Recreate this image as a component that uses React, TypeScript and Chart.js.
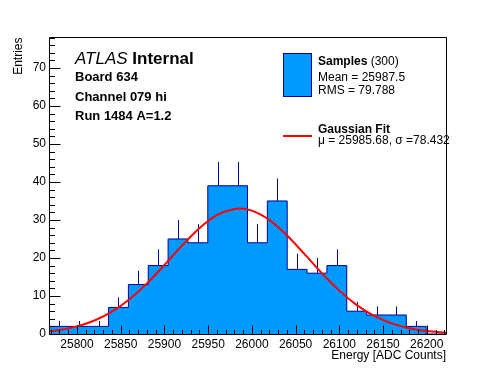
import React, { useEffect, useRef } from 'react';
import { Chart, registerables } from 'chart.js';

Chart.register(...registerables);

// ---- Data ----
const HIST_MIN = 25768;
const HIST_MAX = 26222;
const COUNTS = [2, 2, 2, 7, 13, 18, 25, 24, 39, 39, 24, 35, 17, 16, 18, 6, 5, 5, 2, 0];
const ERRORS = [1.41, 1.41, 1.41, 2.65, 3.61, 4.24, 5.0, 4.9, 6.24, 6.24, 4.9, 5.92, 4.12, 4.0, 4.24, 2.45, 2.24, 2.24, 1.41, 0];
const FIT_X = [25768, 25780, 25800, 25820, 25840, 25860, 25880, 25900, 25920, 25940, 25960, 25980, 25985.68, 26000, 26020, 26040, 26060, 26080, 26100, 26120, 26140, 26160, 26180, 26200, 26222];
const FIT_Y = [0.70, 1.06, 2.00, 3.54, 5.88, 9.14, 13.31, 18.17, 23.24, 27.85, 31.28, 32.91, 33.0, 32.45, 29.99, 25.97, 21.06, 16.01, 11.41, 7.61, 4.76, 2.79, 1.53, 0.79, 0.35];
const X_TICKS = [25800, 25850, 25900, 25950, 26000, 26050, 26100, 26150, 26200];
const Y_TICKS = [0, 10, 20, 30, 40, 50, 60, 70];
const Y_MAX = 78;
const X_MINOR_STEP = 10;
const Y_MINOR_STEP = 2;

const LEGEND_SAMPLES = 'Samples';
const LEGEND_SAMPLES_N = ' (300)';
const LEGEND_MEAN = 'Mean = 25987.5';
const LEGEND_RMS = 'RMS = 79.788';
const LEGEND_FIT = 'Gaussian Fit';
const LEGEND_FIT_PARAMS = 'μ = 25985.68, σ =78.432';
const INFO_LINES = ['Board 634', 'Channel 079 hi', 'Run 1484 A=1.2'];

// ---- Styles ----
const FONT = '"Liberation Sans", Arial, Helvetica, sans-serif';
const HIST_FILL = 'rgb(0,153,255)';
const HIST_LINE = 'rgb(0,0,153)';
const FIT_COLOR = 'rgb(255,0,0)';

const binWidth = (HIST_MAX - HIST_MIN) / COUNTS.length;
const EDGES = COUNTS.map((_, i) => HIST_MIN + i * binWidth).concat([HIST_MAX]);

const HIST_DATA = EDGES.map((e, i) => ({ x: e, y: COUNTS[Math.min(i, COUNTS.length - 1)] }));
const FIT_DATA = FIT_X.map((x, i) => ({ x, y: FIT_Y[i] }));

const decorPlugin = {
  id: 'rootDecor',
  afterDatasetDraw(chart: any, args: any) {
    if (args.index !== 1) return;
    const { ctx, scales } = chart;
    const xs = scales.x;
    const ys = scales.y;
    ctx.save();
    ctx.strokeStyle = HIST_LINE;
    ctx.lineWidth = 1;
    COUNTS.forEach((c, i) => {
      if (!ERRORS[i]) return;
      const cx = (EDGES[i] + EDGES[i + 1]) / 2;
      const px = Math.round(xs.getPixelForValue(cx)) + 0.5;
      ctx.beginPath();
      ctx.moveTo(px, ys.getPixelForValue(c));
      ctx.lineTo(px, ys.getPixelForValue(c + ERRORS[i]));
      ctx.stroke();
    });
    ctx.restore();
  },
  afterDraw(chart: any) {
    const { ctx, chartArea, scales } = chart;
    const xs = scales.x;
    const ys = scales.y;
    const L = Math.floor(chartArea.left) + 0.5;
    const R = Math.floor(chartArea.right) + 0.5;
    const T = Math.floor(chartArea.top) + 0.5;
    const B = Math.floor(chartArea.bottom) + 0.5;
    ctx.save();
    ctx.strokeStyle = '#000';
    ctx.lineWidth = 1;
    ctx.beginPath();
    ctx.rect(L, T, R - L, B - T);
    ctx.stroke();

    // x ticks
    ctx.beginPath();
    const xStart = Math.ceil(xs.min / X_MINOR_STEP) * X_MINOR_STEP;
    for (let v = xStart; v <= xs.max; v += X_MINOR_STEP) {
      const px = Math.round(xs.getPixelForValue(v)) + 0.5;
      const major = X_TICKS.includes(v);
      ctx.moveTo(px, B);
      ctx.lineTo(px, B - (major ? 9 : 4.5));
    }
    // y ticks
    for (let v = 0; v <= ys.max; v += Y_MINOR_STEP) {
      const py = Math.round(ys.getPixelForValue(v)) + 0.5;
      const major = Y_TICKS.includes(v);
      ctx.moveTo(L, py);
      ctx.lineTo(L + (major ? 11 : 5.5), py);
    }
    ctx.stroke();

    // ATLAS label
    ctx.fillStyle = '#000';
    ctx.textBaseline = 'alphabetic';
    ctx.textAlign = 'left';
    ctx.font = `italic 17px ${FONT}`;
    ctx.fillText('ATLAS', 75, 63.5);
    const w = ctx.measureText('ATLAS').width;
    ctx.font = `bold 17px ${FONT}`;
    ctx.fillText(' Internal', 75 + w, 63.5);
    ctx.font = `bold 13px ${FONT}`;
    const bases = [81, 101, 120];
    INFO_LINES.forEach((t, i) => ctx.fillText(t, 75, bases[i]));

    // Legend
    ctx.fillStyle = HIST_FILL;
    ctx.fillRect(283, 53, 29, 44);
    ctx.strokeStyle = HIST_LINE;
    ctx.strokeRect(283.5, 53.5, 28, 43);
    ctx.strokeStyle = FIT_COLOR;
    ctx.lineWidth = 2;
    ctx.beginPath();
    ctx.moveTo(283, 136);
    ctx.lineTo(312, 136);
    ctx.stroke();

    ctx.fillStyle = '#000';
    ctx.font = `bold 12px ${FONT}`;
    ctx.fillText(LEGEND_SAMPLES, 318, 65);
    const ws = ctx.measureText(LEGEND_SAMPLES).width;
    ctx.font = `12px ${FONT}`;
    ctx.fillText(LEGEND_SAMPLES_N, 318 + ws, 65);
    ctx.fillText(LEGEND_MEAN, 318, 81);
    ctx.fillText(LEGEND_RMS, 318, 93.5);
    ctx.font = `bold 12px ${FONT}`;
    ctx.fillText(LEGEND_FIT, 318, 133);
    ctx.font = `12px ${FONT}`;
    ctx.fillText(LEGEND_FIT_PARAMS, 318, 144);
    ctx.restore();
  },
};

export default function App() {
  const ref = useRef<HTMLCanvasElement | null>(null);
  useEffect(() => {
    if (!ref.current) return;
    const chart = new Chart(ref.current, {
      type: 'line',
      data: {
        datasets: [
          {
            label: 'Gaussian Fit',
            data: FIT_DATA,
            borderColor: FIT_COLOR,
            borderWidth: 2,
            pointRadius: 0,
            fill: false,
            cubicInterpolationMode: 'monotone',
            order: 1,
          } as any,
          {
            label: 'Samples',
            data: HIST_DATA,
            borderColor: HIST_LINE,
            backgroundColor: HIST_FILL,
            borderWidth: 1,
            pointRadius: 0,
            stepped: 'before',
            fill: 'origin',
            order: 2,
          } as any,
        ],
      },
      options: {
        animation: false,
        responsive: false,
        devicePixelRatio: 1,
        events: [],
        layout: { padding: { top: 37.5, right: 50, left: 0, bottom: 0 } },
        plugins: { legend: { display: false }, tooltip: { enabled: false } },
        scales: {
          x: {
            type: 'linear',
            min: HIST_MIN,
            max: HIST_MAX,
            grid: { display: false, drawTicks: false },
            border: { display: false },
            afterBuildTicks: (s: any) => { s.ticks = X_TICKS.map((v) => ({ value: v })); },
            afterFit: (s: any) => { s.height = 38; },
            ticks: {
              autoSkip: false,
              maxRotation: 0,
              padding: 3,
              color: '#000',
              font: { family: FONT, size: 12 },
              callback: (v: any) => String(v),
            },
            title: {
              display: true,
              text: 'Energy [ADC Counts]',
              align: 'end',
              color: '#000',
              font: { family: FONT, size: 12 },
              padding: { top: 0, bottom: 9 },
            },
          },
          y: {
            type: 'linear',
            min: 0,
            max: Y_MAX,
            grid: { display: false, drawTicks: false },
            border: { display: false },
            afterBuildTicks: (s: any) => { s.ticks = Y_TICKS.map((v) => ({ value: v })); },
            afterFit: (s: any) => { s.width = 49; },
            ticks: {
              padding: 3,
              color: '#000',
              font: { family: FONT, size: 12 },
              callback: (v: any) => String(v),
            },
            title: {
              display: true,
              text: 'Entries',
              align: 'end',
              color: '#000',
              font: { family: FONT, size: 12 },
              padding: { top: 11, bottom: 0 },
            },
          },
        },
      } as any,
      plugins: [decorPlugin],
    });
    return () => chart.destroy();
  }, []);
  return (
    <div style={{ position: 'absolute', left: 0, top: 0, width: 496, height: 372, background: '#fff' }}>
      <canvas ref={ref} width={496} height={372} />
    </div>
  );
}
